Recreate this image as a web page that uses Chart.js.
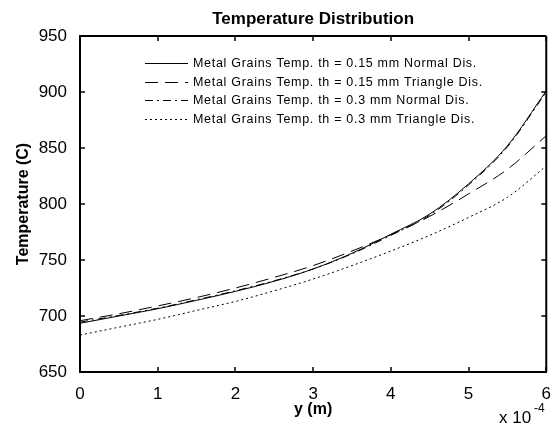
<!DOCTYPE html>
<html>
<head>
<meta charset="utf-8">
<script src="https://cdn.jsdelivr.net/npm/chart.js@4.4.1/dist/chart.umd.min.js"></script>
<style>
  html, body { margin: 0; padding: 0; background: #fff; }
</style>
</head>
<body>
<canvas id="chart" width="555" height="426"></canvas>
<script>
// y position in units of 1e-4 m
const yPos = [0, 0.5, 1, 1.5, 2, 2.5, 3, 3.5, 4, 4.5, 5, 5.5, 6];

const normal015   = [693.5, 700, 706.5, 714, 722, 731, 742, 756, 773, 791, 818, 852, 901];
const triangle015 = [695.8, 702, 709, 716.5, 725, 734.5, 745, 758, 772.5, 789, 809, 831, 861];
const normal03    = [694.5, 700.5, 707, 714.5, 722.5, 731.5, 742, 755.5, 772, 790, 817, 851, 900];
const triangle03  = [683, 690, 697, 705, 713, 722.5, 733, 745, 758, 772, 788, 806, 834];

const seriesLabels = [
  'Metal Grains Temp. th = 0.15 mm Normal Dis.',
  'Metal Grains Temp. th = 0.15 mm Triangle Dis.',
  'Metal Grains Temp. th = 0.3 mm Normal Dis.',
  'Metal Grains Temp. th = 0.3 mm Triangle Dis.'
];
const xTicks = [0, 1, 2, 3, 4, 5, 6];
const yTicks = [650, 700, 750, 800, 850, 900, 950];

const FONT = 'Arial, "Liberation Sans", sans-serif';

function pts(vals) {
  return vals.map((v, i) => ({ x: yPos[i], y: v }));
}

// box, inward ticks, legend and the x10^-4 multiplier, MATLAB style
const matlabFrame = {
  id: 'matlabFrame',
  afterDraw(chart) {
    const ctx = chart.ctx;
    const a = chart.chartArea;
    const xs = chart.scales.x, ys = chart.scales.y;
    ctx.save();
    ctx.strokeStyle = '#000';
    ctx.lineWidth = 2;
    ctx.beginPath();
    ctx.moveTo(a.left, a.top); ctx.lineTo(a.right, a.top);
    ctx.moveTo(a.right, a.top); ctx.lineTo(a.right, a.bottom);
    ctx.stroke();

    ctx.lineWidth = 1.5;
    ctx.beginPath();
    xTicks.forEach(t => {
      const px = Math.round(xs.getPixelForValue(t));
      ctx.moveTo(px, a.bottom); ctx.lineTo(px, a.bottom - 5);
      ctx.moveTo(px, a.top); ctx.lineTo(px, a.top + 5);
    });
    yTicks.forEach(t => {
      const py = Math.round(ys.getPixelForValue(t));
      ctx.moveTo(a.left, py); ctx.lineTo(a.left + 5, py);
      ctx.moveTo(a.right, py); ctx.lineTo(a.right - 5, py);
    });
    ctx.stroke();

    // legend
    const lx = a.left + 65, ly = a.top + 27, rowH = 18.7;
    ctx.font = '12.5px ' + FONT;
    ctx.letterSpacing = '0.7px';
    ctx.textBaseline = 'middle';
    ctx.fillStyle = '#000';
    chart.data.datasets.forEach((ds, i) => {
      const y = Math.round(ly + i * rowH) + 0.5;
      ctx.lineWidth = 1;
      ctx.setLineDash(ds.borderDash || []);
      ctx.beginPath();
      ctx.moveTo(lx, y); ctx.lineTo(lx + 43, y);
      ctx.stroke();
      ctx.setLineDash([]);
      ctx.fillText(ds.label, lx + 48, y);
    });
    ctx.letterSpacing = '0px';

    // axis multiplier
    ctx.font = '17px ' + FONT;
    ctx.textBaseline = 'alphabetic';
    ctx.fillText('x 10', 499, 423);
    ctx.font = '12px ' + FONT;
    ctx.fillText('-4', 534, 412);
    ctx.restore();
  }
};

const ctx = document.getElementById('chart').getContext('2d');
new Chart(ctx, {
  type: 'line',
  data: {
    datasets: [
      { label: seriesLabels[0], data: pts(normal015), borderDash: [] },
      { label: seriesLabels[1], data: pts(triangle015), borderDash: [13, 7] },
      { label: seriesLabels[2], data: pts(normal03), borderDash: [8, 4, 2, 4] },
      { label: seriesLabels[3], data: pts(triangle03), borderDash: [2, 3] }
    ].map(d => Object.assign(d, {
      borderColor: '#000',
      borderWidth: 1,
      pointRadius: 0,
      fill: false,
      tension: 0.4,
      cubicInterpolationMode: 'monotone'
    }))
  },
  options: {
    responsive: false,
    devicePixelRatio: 1,
    animation: false,
    layout: { padding: { left: 0, right: 8, top: 0, bottom: 0 } },
    plugins: {
      legend: { display: false },
      tooltip: { enabled: false },
      title: {
        display: true,
        fullSize: false,
        text: 'Temperature Distribution',
        color: '#000',
        font: { family: FONT, size: 17, weight: 'bold' },
        padding: { top: 9, bottom: 6.6 }
      }
    },
    scales: {
      x: {
        type: 'linear',
        min: 0, max: 6,
        afterFit(s) { s.height = 54; },
        afterBuildTicks(s) { s.ticks = xTicks.map(v => ({ value: v })); },
        grid: { display: false },
        border: { display: true, color: '#000', width: 2 },
        ticks: { color: '#000', padding: 4, font: { family: FONT, size: 17 } },
        title: {
          display: true, text: 'y (m)', color: '#000',
          font: { family: FONT, size: 16, weight: 'bold' },
          padding: { top: 0, bottom: 7 }
        }
      },
      y: {
        min: 650, max: 950,
        afterFit(s) { s.width = 80; },
        afterBuildTicks(s) { s.ticks = yTicks.map(v => ({ value: v })); },
        grid: { display: false },
        border: { display: true, color: '#000', width: 2 },
        ticks: { color: '#000', padding: 5, font: { family: FONT, size: 17 } },
        title: {
          display: true, text: 'Temperature (C)', color: '#000',
          font: { family: FONT, size: 16, weight: 'bold' },
          padding: { top: 14, bottom: 0 }
        }
      }
    }
  },
  plugins: [matlabFrame]
});
</script>
</body>
</html>
